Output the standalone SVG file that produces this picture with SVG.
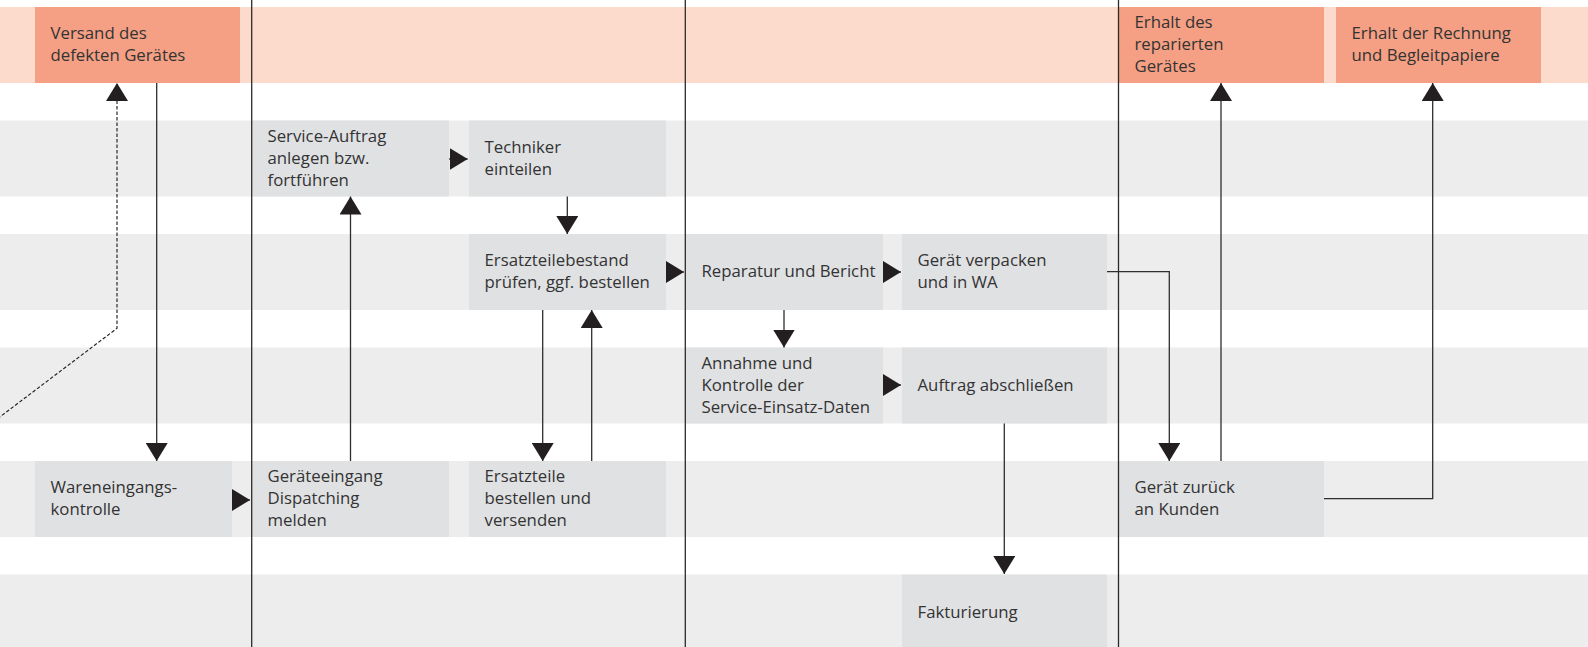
<svg xmlns="http://www.w3.org/2000/svg" width="1588" height="647" viewBox="0 0 1588 647">
  <defs>
    <style>
      .band { fill: #EDEDED; }
      .bandtop { fill: #FDDBCC; }
      .node { fill: #E0E1E3; }
      .nodetop { fill: #F5A084; }
      .lane { stroke: #2b2b2b; stroke-width: 1.3; fill: none; }
      .lbl { font-family: "Open Sans", "Noto Sans", "DejaVu Sans", sans-serif; font-size: 16.8px; fill: #333333; }
      .con { stroke: #2e2e2e; stroke-width: 1.3; fill: none; marker-end: url(#arr); }
      .dash { stroke: #222222; stroke-width: 1.15; fill: none; stroke-dasharray: 3.5 2; marker-end: url(#arr); }
    </style>
    <marker id="arr" markerUnits="userSpaceOnUse" markerWidth="18" markerHeight="22" refX="18" refY="11" orient="auto" viewBox="0 0 18 22">
      <path d="M0,0 L18,11 L0,22 Z" fill="#231F20"/>
    </marker>
  </defs>

  <g id="bands">
    <rect class="bandtop" x="0" y="7" width="1588" height="76"/>
    <rect class="band" x="0" y="120.5" width="1588" height="76"/>
    <rect class="band" x="0" y="234" width="1588" height="76"/>
    <rect class="band" x="0" y="347.5" width="1588" height="76"/>
    <rect class="band" x="0" y="461" width="1588" height="76"/>
    <rect class="band" x="0" y="574.5" width="1588" height="76"/>
  </g>

  <g id="n-versand">
    <rect class="nodetop" x="35" y="7" width="205" height="76"/>
    <text class="lbl" x="50.5" y="39">Versand des</text>
    <text class="lbl" x="50.5" y="61">defekten Gerätes</text>
  </g>
  <g id="n-erhalt-geraet">
    <rect class="nodetop" x="1119" y="7" width="205" height="76"/>
    <text class="lbl" x="1134.5" y="28">Erhalt des</text>
    <text class="lbl" x="1134.5" y="50">reparierten</text>
    <text class="lbl" x="1134.5" y="72">Gerätes</text>
  </g>
  <g id="n-erhalt-rechnung">
    <rect class="nodetop" x="1336" y="7" width="205" height="76"/>
    <text class="lbl" x="1351.5" y="39">Erhalt der Rechnung</text>
    <text class="lbl" x="1351.5" y="61">und Begleitpapiere</text>
  </g>
  <g id="n-service">
    <rect class="node" x="252" y="120.5" width="197" height="76"/>
    <text class="lbl" x="267.5" y="141.5">Service-Auftrag</text>
    <text class="lbl" x="267.5" y="163.5">anlegen bzw.</text>
    <text class="lbl" x="267.5" y="185.5">fortführen</text>
  </g>
  <g id="n-techniker">
    <rect class="node" x="469" y="120.5" width="197" height="76"/>
    <text class="lbl" x="484.5" y="152.5">Techniker</text>
    <text class="lbl" x="484.5" y="174.5">einteilen</text>
  </g>
  <g id="n-ersatzteilebestand">
    <rect class="node" x="469" y="234" width="197" height="76"/>
    <text class="lbl" x="484.5" y="266">Ersatzteilebestand</text>
    <text class="lbl" x="484.5" y="288">prüfen, ggf. bestellen</text>
  </g>
  <g id="n-reparatur">
    <rect class="node" x="686" y="234" width="197" height="76"/>
    <text class="lbl" x="701.5" y="277">Reparatur und Bericht</text>
  </g>
  <g id="n-verpacken">
    <rect class="node" x="902" y="234" width="205" height="76"/>
    <text class="lbl" x="917.5" y="266">Gerät verpacken</text>
    <text class="lbl" x="917.5" y="288">und in WA</text>
  </g>
  <g id="n-annahme">
    <rect class="node" x="686" y="347.5" width="197" height="76"/>
    <text class="lbl" x="701.5" y="368.5">Annahme und</text>
    <text class="lbl" x="701.5" y="390.5">Kontrolle der</text>
    <text class="lbl" x="701.5" y="412.5">Service-Einsatz-Daten</text>
  </g>
  <g id="n-abschliessen">
    <rect class="node" x="902" y="347.5" width="205" height="76"/>
    <text class="lbl" x="917.5" y="390.5">Auftrag abschließen</text>
  </g>
  <g id="n-wareneingang">
    <rect class="node" x="35" y="461" width="197" height="76"/>
    <text class="lbl" x="50.5" y="493">Wareneingangs-</text>
    <text class="lbl" x="50.5" y="515">kontrolle</text>
  </g>
  <g id="n-geraeteeingang">
    <rect class="node" x="252" y="461" width="197" height="76"/>
    <text class="lbl" x="267.5" y="482">Geräteeingang</text>
    <text class="lbl" x="267.5" y="504">Dispatching</text>
    <text class="lbl" x="267.5" y="526">melden</text>
  </g>
  <g id="n-ersatzteile">
    <rect class="node" x="469" y="461" width="197" height="76"/>
    <text class="lbl" x="484.5" y="482">Ersatzteile</text>
    <text class="lbl" x="484.5" y="504">bestellen und</text>
    <text class="lbl" x="484.5" y="526">versenden</text>
  </g>
  <g id="n-zurueck">
    <rect class="node" x="1119" y="461" width="205" height="76"/>
    <text class="lbl" x="1134.5" y="493">Gerät zurück</text>
    <text class="lbl" x="1134.5" y="515">an Kunden</text>
  </g>
  <g id="n-fakturierung">
    <rect class="node" x="902" y="574.5" width="205" height="76"/>
    <text class="lbl" x="917.5" y="617.5">Fakturierung</text>
  </g>

  <g id="lanes">
    <line class="lane" x1="251.7" y1="0" x2="251.7" y2="647"/>
    <line class="lane" x1="685.3" y1="0" x2="685.3" y2="647"/>
    <line class="lane" x1="1118.5" y1="0" x2="1118.5" y2="647"/>
  </g>

  <g id="connectors">
    <polyline class="dash" points="-20,432 117,328.3 117,83"/>
    <line class="con" x1="156.7" y1="83" x2="156.7" y2="461"/>
    <line class="con" x1="232" y1="500" x2="250" y2="500"/>
    <line class="con" x1="350.5" y1="461" x2="350.5" y2="196.5"/>
    <line class="con" x1="449" y1="159" x2="467.7" y2="159"/>
    <line class="con" x1="567.3" y1="196.5" x2="567.3" y2="234"/>
    <line class="con" x1="542.7" y1="310" x2="542.7" y2="461"/>
    <line class="con" x1="591.7" y1="461" x2="591.7" y2="310"/>
    <line class="con" x1="666" y1="272" x2="684" y2="272"/>
    <line class="con" x1="883" y1="272" x2="901" y2="272"/>
    <line class="con" x1="784" y1="310" x2="784" y2="347.5"/>
    <line class="con" x1="883" y1="385" x2="901" y2="385"/>
    <line class="con" x1="1004.3" y1="423.5" x2="1004.3" y2="574"/>
    <polyline class="con" points="1107,271.7 1169.3,271.7 1169.3,461"/>
    <line class="con" x1="1221" y1="461" x2="1221" y2="83"/>
    <polyline class="con" points="1324,498.7 1432.7,498.7 1432.7,83"/>
  </g>
</svg>
